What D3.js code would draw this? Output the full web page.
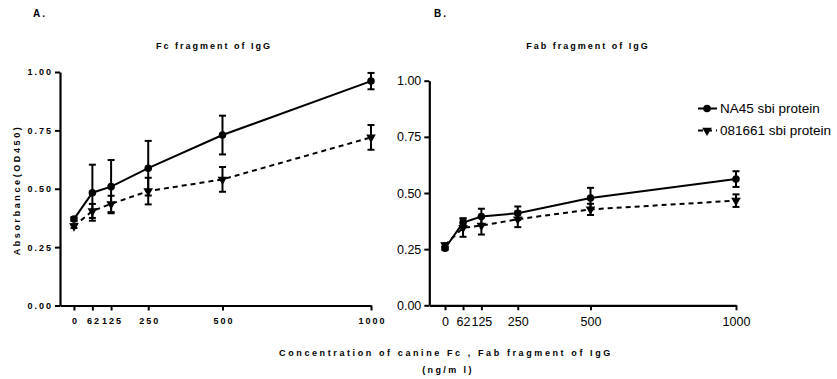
<!DOCTYPE html>
<html>
<head>
<meta charset="utf-8">
<script src="https://cdn.jsdelivr.net/npm/d3@7"></script>
<style>
  body { margin: 0; background: #fff; }
  svg { display: block; }
  .sp text { font-family: "Liberation Sans", Arial, sans-serif; font-weight: bold; font-size: 9px; letter-spacing: 2px; }
  .plain text { font-family: "Liberation Sans", Arial, sans-serif; font-size: 12.5px; }
</style>
</head>
<body>
<div id="chart"></div>
<script>
const conc = [0, 62, 125, 250, 500, 1000];
const tickLabels = ["0", "62", "125", "250", "500", "1000"];
const yTicks = [0, 0.25, 0.5, 0.75, 1.0];
const seriesNames = ["NA45 sbi protein", "081661 sbi protein"];

// panel A - Fc fragment
const fcNA45 = [0.370, 0.483, 0.509, 0.588, 0.730, 0.961];
const fcNA45Err = [0.008, 0.120, 0.114, 0.117, 0.083, 0.035];
const fc081661 = [0.340, 0.405, 0.435, 0.490, 0.540, 0.720];
const fc081661Err = [0.008, 0.030, 0.035, 0.057, 0.053, 0.053];

// panel B - Fab fragment
const fabNA45 = [0.254, 0.368, 0.395, 0.410, 0.478, 0.562];
const fabNA45Err = [0.008, 0.020, 0.035, 0.030, 0.045, 0.035];
const fab081661 = [0.268, 0.345, 0.355, 0.383, 0.427, 0.466];
const fab081661Err = [0.008, 0.040, 0.040, 0.035, 0.025, 0.028];

const W = 837, H = 379;
const svg = d3.select("#chart").append("svg")
  .attr("width", W).attr("height", H);

function drawPanel(opts) {
  const g = svg.append("g").attr("class", opts.cls);
  const x = d3.scaleLinear().domain([opts.xMin, 1000]).range(opts.xRange);
  const y = d3.scaleLinear().domain([0, 1]).range(opts.yRange);

  const xAxis = g.append("g")
    .attr("transform", `translate(0,${opts.yRange[0]})`)
    .call(d3.axisBottom(x).tickValues(conc).tickFormat((d, i) => tickLabels[i])
      .tickSizeOuter(0).tickSizeInner(5).tickPadding(5));
  const yAxis = g.append("g")
    .attr("transform", `translate(${opts.xRange[0]},0)`)
    .call(d3.axisLeft(y).tickValues(yTicks).tickFormat(d3.format(".2f"))
      .tickSizeOuter(0).tickSizeInner(5).tickPadding(opts.yPad));
  [xAxis, yAxis].forEach(a => {
    a.select(".domain").attr("stroke", "#000").attr("stroke-width", 2.2);
    a.selectAll(".tick line").attr("stroke", "#000").attr("stroke-width", 2);
    a.selectAll(".tick text").attr("fill", "#000").attr("font-size", null).attr("font-family", null);
  });
  xAxis.selectAll(".tick text").attr("dy", opts.xDy).attr("dx", opts.xDx);

  const series = [
    { mean: opts.b, err: opts.bErr, dash: "5,4", marker: "tri" },
    { mean: opts.a, err: opts.aErr, dash: null, marker: "circle" }
  ];
  const line = d3.line().x(d => x(d[0])).y(d => y(d[1]));

  series.forEach(s => {
    const pts = conc.map((c, i) => [c, s.mean[i], s.err[i]]);
    g.append("path").datum(pts)
      .attr("d", line).attr("fill", "none").attr("stroke", "#000")
      .attr("stroke-width", 2).attr("stroke-dasharray", s.dash);
    const eb = g.append("g").selectAll("g").data(pts).join("g");
    eb.append("line")
      .attr("x1", d => x(d[0])).attr("x2", d => x(d[0]))
      .attr("y1", d => y(d[1] - d[2])).attr("y2", d => y(d[1] + d[2]))
      .attr("stroke", "#000").attr("stroke-width", 2);
    [-1, 1].forEach(sg => {
      eb.append("line")
        .attr("x1", d => x(d[0]) - 3.5).attr("x2", d => x(d[0]) + 3.5)
        .attr("y1", d => y(d[1] + sg * d[2])).attr("y2", d => y(d[1] + sg * d[2]))
        .attr("stroke", "#000").attr("stroke-width", 2);
    });
    const sym = s.marker === "circle"
      ? d3.symbol().type(d3.symbolCircle).size(45)
      : d3.symbol().type(d3.symbolTriangle).size(40);
    g.append("g").selectAll("path").data(pts).join("path")
      .attr("d", sym)
      .attr("transform", d => `translate(${x(d[0])},${y(d[1])})${s.marker === "tri" ? " rotate(180)" : ""}`)
      .attr("fill", "#000");
  });

  g.append("text").attr("x", opts.labelX).attr("y", 17).text(opts.label)
    .attr("font-family", "Liberation Sans, Arial, sans-serif")
    .attr("font-weight", "bold").attr("font-size", "10px").attr("letter-spacing", "2px")
    .style("font-size", "10px");
  return { g, x, y };
}

const pA = drawPanel({
  cls: "sp", xMin: -47, xRange: [60, 371], yRange: [305.5, 72], yPad: 2, xDy: "0.95em", xDx: 1,
  a: fcNA45, aErr: fcNA45Err, b: fc081661, bErr: fc081661Err, labelX: 33, label: "A."
});
const pB = drawPanel({
  cls: "plain", xMin: -54, xRange: [429.3, 736], yRange: [305.3, 80.7], yPad: 3, xDy: "0.85em", xDx: 0,
  a: fabNA45, aErr: fabNA45Err, b: fab081661, bErr: fab081661Err, labelX: 434, label: "B."
});

// titles and axis labels
const sp = svg.append("g").attr("class", "sp");
sp.append("text").attr("x", 214).attr("y", 49).attr("text-anchor", "middle").text("Fc fragment of IgG");
sp.append("text").attr("x", 588).attr("y", 49).attr("text-anchor", "middle").text("Fab  fragment of IgG");
sp.append("text").attr("transform", "translate(20,190) rotate(-90)").attr("text-anchor", "middle")
  .style("letter-spacing", "2.6px").text("Absorbance(OD450)");
sp.append("text").attr("x", 446).attr("y", 356).attr("text-anchor", "middle")
  .style("letter-spacing", "2.6px").text("Concentration of  canine Fc , Fab fragment of IgG");
sp.append("text").attr("x", 448).attr("y", 373).attr("text-anchor", "middle")
  .style("letter-spacing", "2.4px").text("(ng/m l)");

// legend
const leg = svg.append("g").attr("class", "plain");
seriesNames.forEach((name, i) => {
  const ly = 108.5 + i * 22;
  leg.append("line").attr("x1", 698).attr("x2", 717).attr("y1", ly).attr("y2", ly)
    .attr("stroke", "#000").attr("stroke-width", 2)
    .attr("stroke-dasharray", i === 0 ? null : "5,4");
  leg.append("path")
    .attr("d", d3.symbol().type(i === 0 ? d3.symbolCircle : d3.symbolTriangle).size(i === 0 ? 45 : 40))
    .attr("transform", `translate(707,${ly})${i === 1 ? " rotate(180)" : ""}`);
  leg.append("text").attr("x", 720).attr("y", ly).attr("dy", "0.35em")
    .style("font-size", "13.5px").text(name);
});
</script>
</body>
</html>
